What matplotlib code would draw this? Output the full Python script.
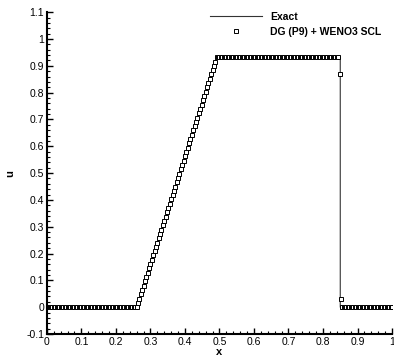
#!/usr/bin/env python3
"""Exact solution vs DG (P9) + WENO3 SCL markers, Tecplot-like look."""

import numpy as np
import matplotlib
matplotlib.use('Agg')
import matplotlib.pyplot as plt
from matplotlib.ticker import MultipleLocator, FormatStrFormatter

plt.rcParams['font.family'] = ['Liberation Sans', 'DejaVu Sans']

# Exact solution breakpoints
exact_x = [0.0, 0.26, 0.492, 0.85, 0.85, 1.0]
exact_u = [0.0, 0.0, 0.932, 0.932, 0.0, 0.0]

# Numerical solution: uniform grid of 251 points on [0, 1]
n_points = 251
left_zero = [0.0] * 66
ramp = [0.016, 0.032, 0.048, 0.064, 0.080, 0.096, 0.112, 0.129, 0.145, 0.161,
        0.177, 0.193, 0.209, 0.225, 0.241, 0.257, 0.273, 0.289, 0.305, 0.321,
        0.337, 0.354, 0.370, 0.386, 0.402, 0.418, 0.434, 0.450, 0.466, 0.482,
        0.498, 0.514, 0.530, 0.546, 0.562, 0.579, 0.595, 0.611, 0.627, 0.643,
        0.659, 0.675, 0.691, 0.707, 0.723, 0.739, 0.755, 0.771, 0.787, 0.804,
        0.820, 0.836, 0.852, 0.868, 0.884, 0.900, 0.916]
plateau = [0.932] * 89
shock = [0.870, 0.030]
right_zero = [0.0] * 37
num_u = left_zero + ramp + plateau + shock + right_zero
num_x = np.linspace(0.0, 1.0, n_points)

fig = plt.figure(figsize=(3.94, 3.58), dpi=100)
ax = fig.add_axes([0.119, 0.067, 0.876, 0.899])

ax.plot(exact_x, exact_u, color='#333333', linewidth=0.8, label='Exact')
ax.plot(num_x, num_u, linestyle='none', marker='s', markersize=2.6,
        markerfacecolor='white', markeredgecolor='black', markeredgewidth=0.7,
        label='DG (P9) + WENO3 SCL')

ax.set_xlim(0, 1)
ax.set_ylim(-0.1, 1.1)
ax.xaxis.set_major_locator(MultipleLocator(0.1))
ax.xaxis.set_minor_locator(MultipleLocator(0.02))
ax.yaxis.set_major_locator(MultipleLocator(0.1))
ax.yaxis.set_minor_locator(MultipleLocator(0.02))
ax.xaxis.set_major_formatter(FormatStrFormatter('%g'))
ax.yaxis.set_major_formatter(FormatStrFormatter('%g'))

for side in ['top', 'right']:
    ax.spines[side].set_visible(False)
for side in ['left', 'bottom']:
    ax.spines[side].set_linewidth(1.5)

ax.tick_params(which='major', direction='in', length=4.5, width=1.0,
               labelsize=7.5, pad=2)
ax.tick_params(which='minor', direction='in', length=2.3, width=0.8)

ax.set_xlabel('x', fontsize=8, fontweight='bold', labelpad=0)
ax.set_ylabel('u', fontsize=8, fontweight='bold', labelpad=8)

leg = ax.legend(loc='upper left', bbox_to_anchor=(0.533, 0.967),
                bbox_transform=fig.transFigure, frameon=False,
                prop={'size': 7.5, 'weight': 'bold'}, handlelength=5.0,
                handletextpad=0.8, labelspacing=0.5, borderpad=0,
                borderaxespad=0)

fig.savefig('out.png', dpi=100)
